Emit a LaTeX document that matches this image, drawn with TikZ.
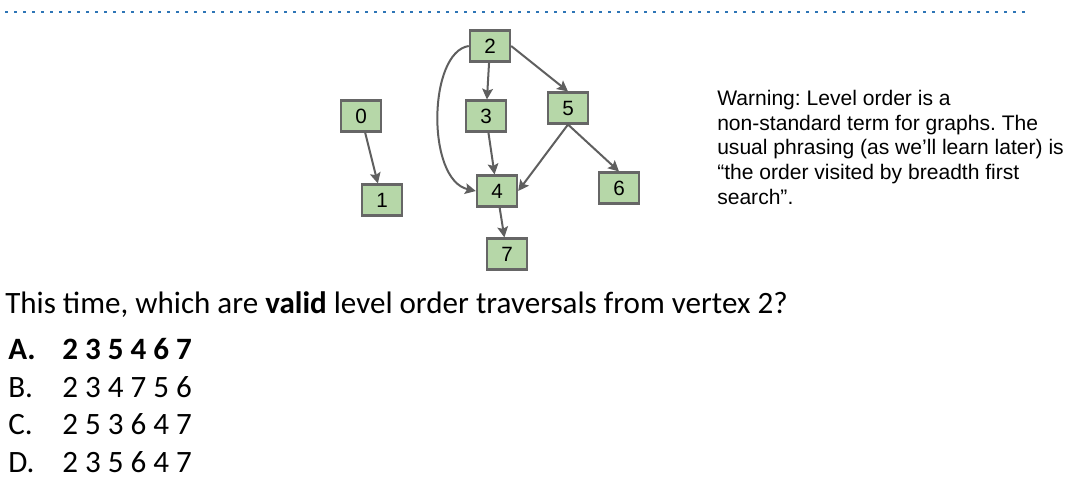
\documentclass[tikz,border=0pt]{standalone}
\usepackage{fontspec}
\setmainfont{Carlito}
\newfontfamily\arial{Liberation Sans}
\usetikzlibrary{arrows.meta}
\frenchspacing
\definecolor{nodefill}{HTML}{B6D7A8}
\definecolor{nodeborder}{HTML}{666666}
\definecolor{edgegray}{HTML}{5F5F5F}
\definecolor{dotblue}{HTML}{2E75B6}
\tikzset{
  vert/.style={draw=nodeborder, line width=1.8pt, fill=nodefill, minimum width=30pt, minimum height=23pt, inner sep=0pt, font=\arial\fontsize{15.5pt}{18pt}\selectfont},
  edge/.style={draw=edgegray, line width=1.5pt, -{Stealth[length=8pt,width=8pt,inset=1.5pt]}},
  qtext/.style={anchor=base west, inner sep=0pt, font=\fontsize{23.3pt}{28pt}\selectfont}
}
\begin{document}
\begin{tikzpicture}[x=0.75pt,y=-0.75pt]
\useasboundingbox (0,0) rectangle (1081,500);
% dotted line
\coordinate (dl) at (5,12);
\coordinate (dr) at (1026,12);
\draw[dotblue, line width=2.2pt, dash pattern=on 2.2pt off 4.55pt] (dl) -- (dr);
% vertices
\node[vert] (n0) at (361,116) {0};
\node[vert] (n1) at (382,200) {1};
\node[vert] (n2) at (490,46) {2};
\node[vert] (n3) at (486,116) {3};
\node[vert] (n5) at (568,108) {5};
\node[vert] (n4) at (497,191) {4};
\node[vert] (n6) at (619,188) {6};
\node[vert] (n7) at (507,254) {7};
% edges
\draw[edge] (n0) -- (n1);
\draw[edge] (n2) -- (n3);
\draw[edge] (n2.east) -- (n5.north);
\draw[edge] (n3) -- (n4);
\draw[edge] (n5.south) -- (n4.east);
\draw[edge] (n5.south) -- (n6.north);
\draw[edge] (n4) -- (n7);
\draw[edge] (n2.west) .. controls (428,52) and (426,180) .. (n4.west);
% warning
\node[anchor=north west, inner sep=0pt, align=left, font=\arial\fontsize{15.8pt}{18.5pt}\selectfont] (warn) at (717,90)
{Warning: Level order is a\\non-standard term for graphs. The\\usual phrasing (as we’ll learn later) is\\“the order visited by breadth first\\search”.};
% question
\node[qtext] (q) at (5,313) {This time, which are \textbf{valid} level order traversals from vertex 2?};
\node[qtext] (la) at (8,359) {\textbf{A.}};
\node[qtext] (oa) at (62,359) {\textbf{2 3 5 4 6 7}};
\node[qtext] (lb) at (8,397) {B.};
\node[qtext] (ob) at (62,397) {2 3 4 7 5 6};
\node[qtext] (lc) at (8,434) {C.};
\node[qtext] (oc) at (62,434) {2 5 3 6 4 7};
\node[qtext] (ld) at (8,472) {D.};
\node[qtext] (od) at (62,472) {2 3 5 6 4 7};
\end{tikzpicture}
\end{document}
